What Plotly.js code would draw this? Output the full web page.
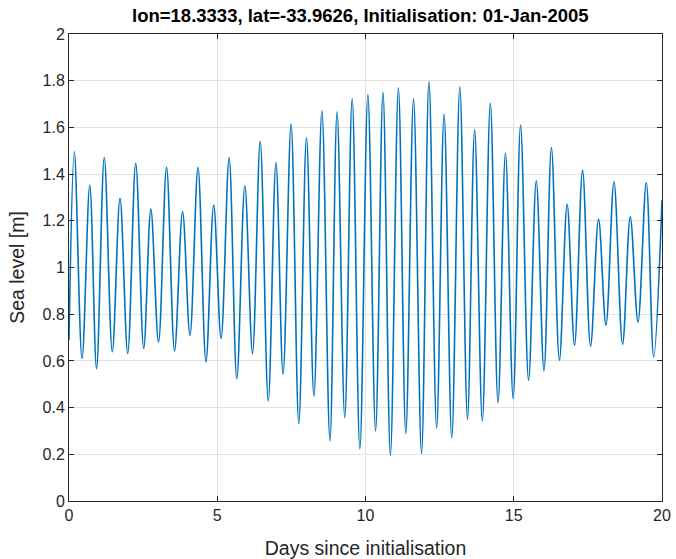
<!DOCTYPE html>
<html>
<head>
<meta charset="utf-8">
<script src="https://cdn.plot.ly/plotly-3.0.1.min.js"></script>
<style>html,body{margin:0;padding:0;background:#fff;}#chart{width:676px;height:559px;}</style>
</head>
<body>
<div id="chart"></div>
<script>
// Turning points (highs and lows), plus the end points
const days = [0.00, 0.18, 0.44, 0.70, 0.93, 1.19, 1.46, 1.72, 1.98, 2.25, 2.52, 2.76, 3.02, 3.29, 3.56, 3.83, 4.08, 4.35, 4.62, 4.88, 5.13, 5.40, 5.66, 5.93, 6.19, 6.45, 6.72,
  6.98, 7.22, 7.49, 7.75, 8.01, 8.26, 8.53, 8.80, 9.04, 9.30, 9.55, 9.81, 10.08, 10.34, 10.59, 10.84, 11.11, 11.36, 11.62, 11.89, 12.14, 12.40, 12.65, 12.91, 13.18, 13.44,
  13.68, 13.94, 14.21, 14.47, 14.72, 14.98, 15.23, 15.50, 15.76, 16.02, 16.27, 16.54, 16.80, 17.05, 17.32, 17.59, 17.86, 18.11, 18.38, 18.67, 18.93, 19.19, 19.47, 19.72, 20.00];
const seaLevel = [0.69, 1.496, 0.61, 1.353, 0.567, 1.471, 0.639, 1.296, 0.631, 1.446, 0.653, 1.25, 0.681, 1.429, 0.643, 1.239, 0.71, 1.429, 0.596, 1.267, 0.696, 1.471, 0.524, 1.35, 0.631, 1.541, 0.429,
  1.45, 0.543, 1.614, 0.331, 1.557, 0.449, 1.671, 0.257, 1.667, 0.357, 1.724, 0.224, 1.741, 0.30, 1.75, 0.196, 1.77, 0.289, 1.724, 0.203, 1.796, 0.313, 1.656, 0.271, 1.774, 0.349,
  1.591, 0.343, 1.703, 0.421, 1.489, 0.439, 1.61, 0.517, 1.371, 0.557, 1.514, 0.603, 1.271, 0.667, 1.417, 0.663, 1.206, 0.753, 1.367, 0.671, 1.217, 0.767, 1.363, 0.617, 1.289];

const titleText = 'lon=18.3333, lat=-33.9626, Initialisation: 01-Jan-2005';
const xTitle = 'Days since initialisation';
const yTitle = 'Sea level [m]';

const FONT = 'Liberation Sans, Arial, sans-serif';
const axisCommon = {
  showline: true, mirror: 'ticks', linecolor: '#262626', linewidth: 1,
  ticks: 'inside', ticklen: 5, tickcolor: '#262626',
  showgrid: true, gridcolor: '#e3e3e3', gridwidth: 1,
  zeroline: false,
  tickfont: {family: FONT, size: 16, color: '#262626'}
};

const data = [{
  x: days, y: seaLevel, type: 'scatter', mode: 'lines',
  line: {color: '#0072BD', width: 1.6, shape: 'spline', smoothing: 1},
  cliponaxis: true, hoverinfo: 'skip'
}];

const layout = {
  width: 676, height: 559,
  margin: {l: 69, r: 14, t: 34, b: 58},
  paper_bgcolor: '#ffffff', plot_bgcolor: '#ffffff',
  showlegend: false,
  title: {text: '<b>' + titleText + '</b>', x: 0.533, xanchor: 'center', y: 0.972, yanchor: 'middle',
    font: {family: FONT, size: 18.5, color: '#000000'}},
  xaxis: Object.assign({}, axisCommon, {
    range: [0, 20], tickmode: 'array', tickvals: [0, 5, 10, 15, 20],
    title: {text: xTitle, standoff: 18, font: {family: FONT, size: 19.5, color: '#262626'}}
  }),
  yaxis: Object.assign({}, axisCommon, {
    range: [0, 2], tick0: 0, dtick: 0.2,
    title: {text: yTitle, standoff: 12, font: {family: FONT, size: 19.5, color: '#262626'}}
  })
};

Plotly.newPlot('chart', data, layout, {staticPlot: true, displayModeBar: false});
</script>
</body>
</html>
